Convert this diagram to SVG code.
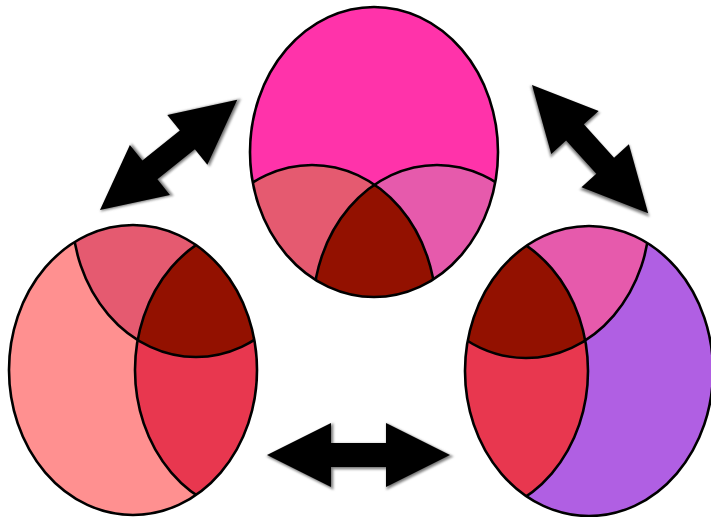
<svg xmlns="http://www.w3.org/2000/svg" width="711" height="517" viewBox="0 0 711 517">
<style>
.ln{fill:none;stroke:#000;stroke-width:2.6}
.arrow{fill:#000}
.shadow{fill:#666;stroke:#999;stroke-width:2;filter:url(#blur)}
.a{fill:#ff33aa}.b{fill:#ff9090}.c{fill:#b05fe3}
.ab{fill:#e55a70}.ac{fill:#e65aac}.bc{fill:#e8374f}.abc{fill:#931100}
</style>
<defs>
<filter id="blur" x="-20%" y="-20%" width="140%" height="140%"><feGaussianBlur stdDeviation="1"/></filter>
<clipPath id="cT"><ellipse cx="374" cy="152" rx="124" ry="145"/></clipPath>
<clipPath id="cTB"><ellipse cx="312" cy="310" rx="124" ry="145"/></clipPath>
<clipPath id="cL"><ellipse cx="133" cy="370" rx="124" ry="145"/></clipPath>
<clipPath id="cLA"><ellipse cx="196" cy="212" rx="124" ry="145"/></clipPath>
<clipPath id="cR"><ellipse cx="589" cy="371" rx="124" ry="145"/></clipPath>
<clipPath id="cRA"><ellipse cx="526" cy="213" rx="124" ry="145"/></clipPath>
</defs>

<g id="connectors">
<g transform="translate(100,210) rotate(-38.76)">
<path class="shadow" transform="translate(1.5,1.5)" d="M0,0 L64,-32 L64,-12 L112,-12 L112,-32 L176,0 L112,32 L112,12 L64,12 L64,32 Z"/>
<path class="arrow" d="M0,0 L64,-32 L64,-12 L112,-12 L112,-32 L176,0 L112,32 L112,12 L64,12 L64,32 Z"/>
</g>
<g transform="translate(532,85) rotate(47.82)">
<path class="shadow" transform="translate(1.5,1.5)" d="M0,0 L64,-32 L64,-12 L109,-12 L109,-32 L173,0 L109,32 L109,12 L64,12 L64,32 Z"/>
<path class="arrow" d="M0,0 L64,-32 L64,-12 L109,-12 L109,-32 L173,0 L109,32 L109,12 L64,12 L64,32 Z"/>
</g>
<g transform="translate(267,455)">
<path class="shadow" transform="translate(1.5,1.5)" d="M0,0 L64,-32 L64,-12 L119,-12 L119,-32 L183,0 L119,32 L119,12 L64,12 L64,32 Z"/>
<path class="arrow" d="M0,0 L64,-32 L64,-12 L119,-12 L119,-32 L183,0 L119,32 L119,12 L64,12 L64,32 Z"/>
</g>
</g>

<g id="node-top">
<ellipse class="a" cx="374" cy="152" rx="124" ry="145"/>
<g clip-path="url(#cT)">
<ellipse class="ab" cx="312" cy="310" rx="124" ry="145"/>
<ellipse class="ac" cx="437" cy="310" rx="124" ry="145"/>
<g clip-path="url(#cTB)"><ellipse class="abc" cx="437" cy="310" rx="124" ry="145"/></g>
<ellipse class="ln" cx="312" cy="310" rx="124" ry="145"/>
<ellipse class="ln" cx="437" cy="310" rx="124" ry="145"/>
</g>
<ellipse class="ln" cx="374" cy="152" rx="124" ry="145"/>
</g>

<g id="node-left">
<ellipse class="b" cx="133" cy="370" rx="124" ry="145"/>
<g clip-path="url(#cL)">
<ellipse class="ab" cx="196" cy="212" rx="124" ry="145"/>
<ellipse class="bc" cx="259" cy="370" rx="124" ry="145"/>
<g clip-path="url(#cLA)"><ellipse class="abc" cx="259" cy="370" rx="124" ry="145"/></g>
<ellipse class="ln" cx="196" cy="212" rx="124" ry="145"/>
<ellipse class="ln" cx="259" cy="370" rx="124" ry="145"/>
</g>
<ellipse class="ln" cx="133" cy="370" rx="124" ry="145"/>
</g>

<g id="node-right">
<ellipse class="c" cx="589" cy="371" rx="124" ry="145"/>
<g clip-path="url(#cR)">
<ellipse class="ac" cx="526" cy="213" rx="124" ry="145"/>
<ellipse class="bc" cx="464" cy="371" rx="124" ry="145"/>
<g clip-path="url(#cRA)"><ellipse class="abc" cx="464" cy="371" rx="124" ry="145"/></g>
<ellipse class="ln" cx="526" cy="213" rx="124" ry="145"/>
<ellipse class="ln" cx="464" cy="371" rx="124" ry="145"/>
</g>
<ellipse class="ln" cx="589" cy="371" rx="124" ry="145"/>
</g>
</svg>
